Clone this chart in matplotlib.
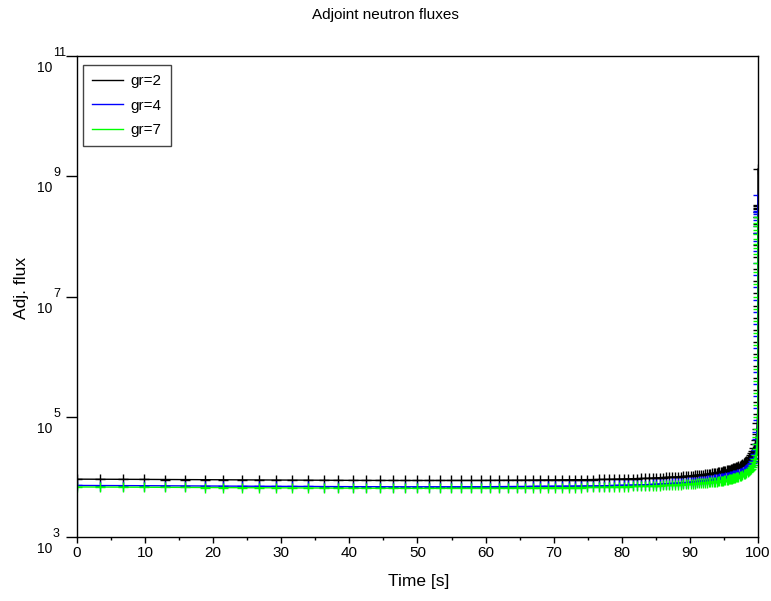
import numpy as np
import matplotlib
matplotlib.use("Agg")
import matplotlib.pyplot as plt
from matplotlib.lines import Line2D
from matplotlib.ticker import FixedLocator, MultipleLocator, NullFormatter
from matplotlib.transforms import ScaledTranslation, blended_transform_factory

plt.rcParams['font.family'] = ['Liberation Sans', 'DejaVu Sans']

# time steps of the backward adjoint solve [s]
time = [
    0.0, 3.40, 6.68, 9.85, 12.92, 15.88, 18.74, 21.50, 24.17, 26.75,
    29.24, 31.64, 33.97, 36.21, 38.38, 40.47, 42.50, 44.45, 46.34, 48.16,
    49.93, 51.63, 53.27, 54.86, 56.40, 57.88, 59.31, 60.69, 62.03, 63.32,
    64.57, 65.77, 66.93, 68.06, 69.14, 70.19, 71.21, 72.18, 73.13, 74.04,
    74.92, 75.78, 76.60, 77.39, 78.16, 78.90, 79.62, 80.31, 80.98, 81.63,
    82.25, 82.86, 83.44, 84.00, 84.54, 85.07, 85.58, 86.07, 86.54, 87.00,
    87.44, 87.86, 88.28, 88.68, 89.06, 89.43, 89.79, 90.14, 90.47, 90.80,
    91.11, 91.41, 91.70, 91.99, 92.26, 92.52, 92.78, 93.02, 93.26, 93.49,
    93.71, 93.92, 94.13, 94.33, 94.52, 94.71, 94.89, 95.06, 95.23, 95.39,
    95.55, 95.70, 95.85, 95.99, 96.12, 96.26, 96.38, 96.51, 96.63, 96.74,
    96.85,
    97.10, 97.30, 97.50, 97.70, 97.90, 98.10, 98.30, 98.50, 98.70, 98.85,
    99.00, 99.15, 99.30, 99.45, 99.60, 99.70, 99.80, 99.87, 99.92,
    99.95, 99.97, 99.98, 99.985, 99.99, 99.993, 99.995, 99.996, 99.997, 99.998,
    99.9985, 99.999, 99.9993, 99.9995, 99.9996, 99.9997, 99.9998, 99.99985,
    99.9999, 99.99993, 99.99995, 99.99997, 99.99999, 100.0,
]

# log10 of the adjoint flux for each energy group
log_flux_gr2 = [
    3.962, 3.961, 3.959, 3.958, 3.956, 3.955, 3.953, 3.952, 3.950, 3.949,
    3.948, 3.946, 3.945, 3.944, 3.943, 3.942, 3.941, 3.941, 3.940, 3.940,
    3.940, 3.940, 3.940, 3.940, 3.940, 3.941, 3.941, 3.942, 3.942, 3.943,
    3.944, 3.944, 3.945, 3.946, 3.947, 3.948, 3.949, 3.950, 3.951, 3.953,
    3.954, 3.955, 3.957, 3.958, 3.960, 3.962, 3.964, 3.966, 3.968, 3.970,
    3.971, 3.973, 3.975, 3.978, 3.980, 3.982, 3.985, 3.988, 3.990, 3.993,
    3.996, 3.999, 4.002, 4.005, 4.008, 4.011, 4.014, 4.018, 4.021, 4.024,
    4.028, 4.031, 4.035, 4.038, 4.042, 4.046, 4.050, 4.054, 4.058, 4.062,
    4.066, 4.070, 4.074, 4.078, 4.083, 4.087, 4.092, 4.096, 4.101, 4.106,
    4.111, 4.116, 4.121, 4.126, 4.131, 4.136, 4.141, 4.147, 4.152, 4.158,
    4.163,
    4.175, 4.186, 4.198, 4.212, 4.227, 4.243, 4.262, 4.283, 4.308, 4.330,
    4.357, 4.390, 4.430, 4.480, 4.550, 4.620, 4.710, 4.800, 4.900,
    5.05, 5.25, 5.45, 5.65, 5.85, 6.05, 6.25, 6.45, 6.65, 6.85,
    7.05, 7.25, 7.45, 7.65, 7.85, 8.05, 8.20, 8.32,
    8.40, 8.45, 8.48, 8.50, 8.52, 9.12,
]

log_flux_gr4 = [
    3.857, 3.856, 3.854, 3.853, 3.851, 3.850, 3.848, 3.847, 3.845, 3.844,
    3.843, 3.841, 3.840, 3.839, 3.838, 3.837, 3.836, 3.836, 3.835, 3.835,
    3.835, 3.835, 3.835, 3.835, 3.835, 3.836, 3.836, 3.837, 3.837, 3.838,
    3.839, 3.839, 3.840, 3.841, 3.842, 3.843, 3.844, 3.845, 3.846, 3.848,
    3.849, 3.850, 3.852, 3.853, 3.855, 3.857, 3.859, 3.861, 3.863, 3.865,
    3.866, 3.868, 3.870, 3.873, 3.875, 3.877, 3.880, 3.883, 3.885, 3.888,
    3.891, 3.894, 3.897, 3.900, 3.903, 3.906, 3.909, 3.913, 3.916, 3.919,
    3.923, 3.926, 3.930, 3.933, 3.937, 3.941, 3.945, 3.949, 3.953, 3.957,
    3.961, 3.965, 3.969, 3.973, 3.977, 3.981, 3.985, 3.989, 3.993, 3.997,
    4.001, 4.005, 4.009, 4.013, 4.017, 4.021, 4.025, 4.030, 4.034, 4.039,
    4.043,
    4.053, 4.062, 4.072, 4.083, 4.095, 4.108, 4.123, 4.140, 4.160, 4.178,
    4.200, 4.228, 4.265, 4.312, 4.380, 4.450, 4.540, 4.635, 4.740,
    4.95, 5.15, 5.35, 5.55, 5.75, 5.95, 6.15, 6.35, 6.55, 6.75,
    6.95, 7.15, 7.35, 7.55, 7.75, 7.92, 8.06, 8.18,
    8.27, 8.33, 8.37, 8.40, 8.42, 8.68,
]

log_flux_gr7 = [
    3.832, 3.831, 3.829, 3.828, 3.826, 3.825, 3.823, 3.822, 3.820, 3.819,
    3.818, 3.816, 3.815, 3.814, 3.813, 3.812, 3.811, 3.811, 3.810, 3.810,
    3.810, 3.810, 3.810, 3.810, 3.810, 3.811, 3.811, 3.812, 3.812, 3.813,
    3.814, 3.814, 3.815, 3.816, 3.817, 3.818, 3.819, 3.820, 3.821, 3.823,
    3.824, 3.825, 3.827, 3.828, 3.830, 3.832, 3.834, 3.836, 3.838, 3.840,
    3.841, 3.843, 3.845, 3.848, 3.850, 3.852, 3.855, 3.857, 3.859, 3.862,
    3.864, 3.867, 3.869, 3.872, 3.874, 3.877, 3.879, 3.882, 3.884, 3.887,
    3.890, 3.892, 3.895, 3.898, 3.901, 3.904, 3.907, 3.910, 3.913, 3.916,
    3.919, 3.922, 3.925, 3.928, 3.932, 3.935, 3.939, 3.942, 3.946, 3.950,
    3.954, 3.958, 3.962, 3.966, 3.970, 3.974, 3.978, 3.983, 3.987, 3.992,
    3.996,
    4.005, 4.013, 4.022, 4.032, 4.043, 4.055, 4.068, 4.083, 4.100, 4.115,
    4.135, 4.160, 4.195, 4.240, 4.305, 4.370, 4.460, 4.555, 4.660,
    4.80, 5.00, 5.20, 5.40, 5.60, 5.80, 6.00, 6.20, 6.40, 6.60,
    6.80, 7.00, 7.20, 7.40, 7.56, 7.70, 7.80, 7.88,
    7.96, 8.04, 8.11, 8.17, 8.23, 8.32,
]

groups = ['gr=2', 'gr=4', 'gr=7']
colors = ['#000000', '#0000ff', '#00ff00']
series = [log_flux_gr2, log_flux_gr4, log_flux_gr7]
y_exponents = [3, 5, 7, 9, 11]

fig = plt.figure(figsize=(7.71, 6.01), dpi=100)
ax = fig.add_axes([0.0999, 0.1065, 0.8832, 0.8003])

t = np.array(time)
for vals, c in zip(series, colors):
    ax.plot(t, 10.0 ** np.array(vals), color=c, lw=1.0, marker='+',
            ms=7.5, mew=1.0)

ax.set_yscale('log')
ax.set_xlim(0, 100)
ax.set_ylim(1e3, 1e11)

ax.xaxis.set_major_locator(MultipleLocator(10))
ax.xaxis.set_minor_locator(MultipleLocator(5))
ax.yaxis.set_major_locator(FixedLocator([10.0 ** e for e in y_exponents]))
ax.yaxis.set_minor_locator(FixedLocator([]))
ax.yaxis.set_major_formatter(NullFormatter())

ax.tick_params(axis='both', which='major', direction='out', width=1,
               top=False, right=False)
ax.tick_params(axis='x', which='major', length=4.3, labelsize=11, pad=2)
ax.tick_params(axis='x', which='minor', direction='out', length=2.4, width=1)
ax.tick_params(axis='y', which='major', length=8.0)

# decade labels: "10" below the tick, exponent raised beside it
ytrans = blended_transform_factory(ax.transAxes, ax.transData)
for e in y_exponents:
    base = ytrans + ScaledTranslation(-25 / 100, -12 / 100, fig.dpi_scale_trans)
    sup = ytrans + ScaledTranslation(-24 / 100, 3 / 100, fig.dpi_scale_trans)
    ax.text(0, 10.0 ** e, '10', transform=base, ha='right', va='center',
            fontsize=10, clip_on=False)
    ax.text(0, 10.0 ** e, str(e), transform=sup, ha='left', va='center',
            fontsize=9, clip_on=False)

for sp in ax.spines.values():
    sp.set_linewidth(1.0)

ax.set_xlabel('Time [s]', fontsize=12.5)
ax.set_ylabel('Adj. flux', fontsize=12.5)
ax.xaxis.set_label_coords(0.502, -0.093)
ax.yaxis.set_label_coords(-0.082, 0.518)
ax.xaxis.label.set_va('center')
ax.yaxis.label.set_va('center')

fig.suptitle('Adjoint neutron fluxes', fontsize=11, x=0.5, y=0.975,
             va='center')

handles = [Line2D([], [], color=c, lw=1.0) for c in colors]
leg = ax.legend(handles, groups, loc='upper left',
                bbox_to_anchor=(0.0088, 0.981), borderaxespad=0,
                fontsize=11, fancybox=False, framealpha=1,
                edgecolor='#444444', handlelength=2.0, labelspacing=0.68,
                borderpad=0.6, handletextpad=0.5)
leg.get_frame().set_linewidth(1.0)

fig.savefig('out.png', dpi=100)
